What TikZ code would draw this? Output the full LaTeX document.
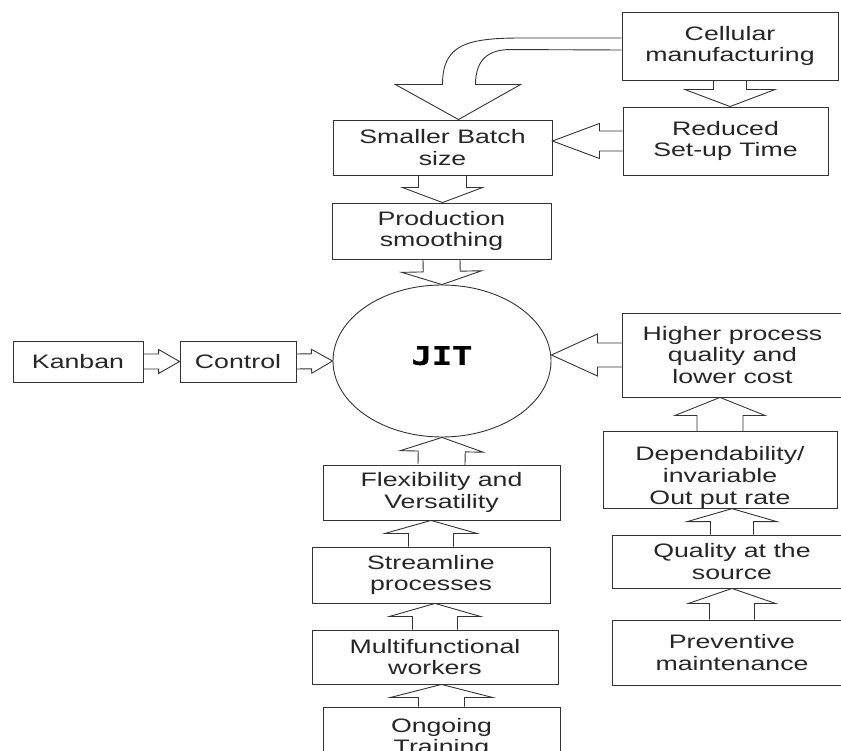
\documentclass[tikz,border=0pt]{standalone}
\usepackage{fontspec}
\setmainfont{Liberation Sans}[FakeStretch=1.37]
\newfontfamily\jitfont{DejaVu Sans Mono Bold}[FakeStretch=1.32, FakeBold=1.2]
\usetikzlibrary{shapes.geometric,calc}

\newcommand{\fatarrow}[5]{%
  \coordinate (fa_s) at (#1);
  \coordinate (fa_t) at (#2);
  \coordinate (fa_h) at ($(fa_t)!#5!(fa_s)$);
  \draw[blk] ($(fa_s)!#3!90:(fa_t)$) -- ($(fa_h)!#3!90:(fa_t)$) -- ($(fa_h)!#4!90:(fa_t)$) -- (fa_t)
    -- ($(fa_h)!#4!-90:(fa_t)$) -- ($(fa_h)!#3!-90:(fa_t)$) -- ($(fa_s)!#3!-90:(fa_t)$);
}

\begin{document}
\begin{tikzpicture}[x=1pt, y=-1pt,
    font=\fontsize{19.5}{21.7}\selectfont,
    box/.style 2 args={draw=black!80, line width=0.9pt, rectangle, align=center, inner sep=0pt,
      text=black!85, minimum width=#1, minimum height=#2},
    blk/.style={draw=black!80, line width=0.9pt, line join=miter}]
   \useasboundingbox (0,0) rectangle (841,751);
   \node[box={216pt}{68pt}] (cell) at (730,46) {Cellular\\manufacturing};
   \node[box={205pt}{68pt}] (setup) at (725.5,141) {Reduced\\Set-up Time};
   \node[box={219pt}{55pt}] (batch) at (442.5,147.5) {Smaller Batch\\size};
   \node[box={219pt}{56pt}] (smooth) at (441.5,231) {Production\\smoothing};
   \node[draw=black!80, line width=0.9pt, ellipse, minimum width=218pt, minimum height=152pt,
     font=\jitfont\fontsize{25.5}{28}\selectfont] (jit) at (442,361) {\raisebox{11pt}{JIT}};
   \node[box={130pt}{41pt}] (kanban) at (78,361.5) {Kanban};
   \node[box={116pt}{41pt}] (control) at (238,361.5) {Control};
   \node[box={221pt}{84pt}] (cost) at (732.5,355) {Higher process\\quality and\\lower cost};
   \node[box={234pt}{74pt}] (dep) at (720,470) {\rule{0pt}{29pt}Dependability/\\invariable\\Out put rate};
   \node[box={240pt}{53pt}] (source) at (732,561.5) {Quality at the\\source};
   \node[box={240pt}{65pt}] (prevent) at (732,652.5) {Preventive\\maintenance};
   \node[box={237pt}{55pt}] (flex) at (441.5,492.5) {Flexibility and\\Versatility};
   \node[box={238pt}{56pt}] (stream) at (431,575) {Streamline\\processes};
   \node[box={246pt}{54pt}] (multi) at (435,657) {Multifunctional\\workers};
   \node[box={237pt}{62pt}] (train) at (441.5,738) {Ongoing\\Training};

   \fatarrow{kanban.east}{control.west}{7.5pt}{12pt}{21pt}
   \fatarrow{control.east}{jit.west}{7.5pt}{12pt}{21pt}
   \fatarrow{cell.south}{cell.south |- setup.north}{16.5pt}{45pt}{17pt}
   \fatarrow{setup.west}{setup.west -| batch.east}{10pt}{17.5pt}{47pt}
   \fatarrow{batch.south}{batch.south |- smooth.north}{24pt}{40pt}{15pt}
   \fatarrow{smooth.south}{jit.north}{18.5pt}{40pt}{13pt}
   \fatarrow{flex.north}{jit.south}{23.5pt}{41.5pt}{14pt}
   \fatarrow{cost.west}{cost.west -| jit.east}{12pt}{21pt}{46pt}
   \fatarrow{dep.north}{dep.north |- cost.south}{23pt}{45pt}{18pt}
   \fatarrow{source.north}{source.north |- dep.south}{21.5pt}{45pt}{13pt}
   \fatarrow{prevent.north}{prevent.north |- source.south}{22.5pt}{43.5pt}{15pt}
   \fatarrow{stream.north}{stream.north |- flex.south}{22.5pt}{46pt}{13pt}
   \fatarrow{multi.north}{multi.north |- stream.south}{22.5pt}{45.5pt}{13pt}
   \fatarrow{train.north}{train.north |- multi.south}{23pt}{51pt}{13pt}

   \coordinate (ctip) at ($(batch.north)+(16,0)$);
   \draw[blk] ($(cell.west)+(0,-8)$) -- ++(-100,0)
     .. controls ++(-55,0) and ($(ctip)+(-16,-75)$) .. ($(ctip)+(-16,-35)$)
     -- ($(ctip)+(-63,-35)$) -- (ctip) -- ($(ctip)+(62,-35)$) -- ($(ctip)+(17,-35)$)
     .. controls ($(ctip)+(17,-62)$) and ($(ctip)+(32,-70)$) .. ($(ctip)+(52,-70)$)
     -- ($(cell.west)+(0,4)$);
\end{tikzpicture}
\end{document}
